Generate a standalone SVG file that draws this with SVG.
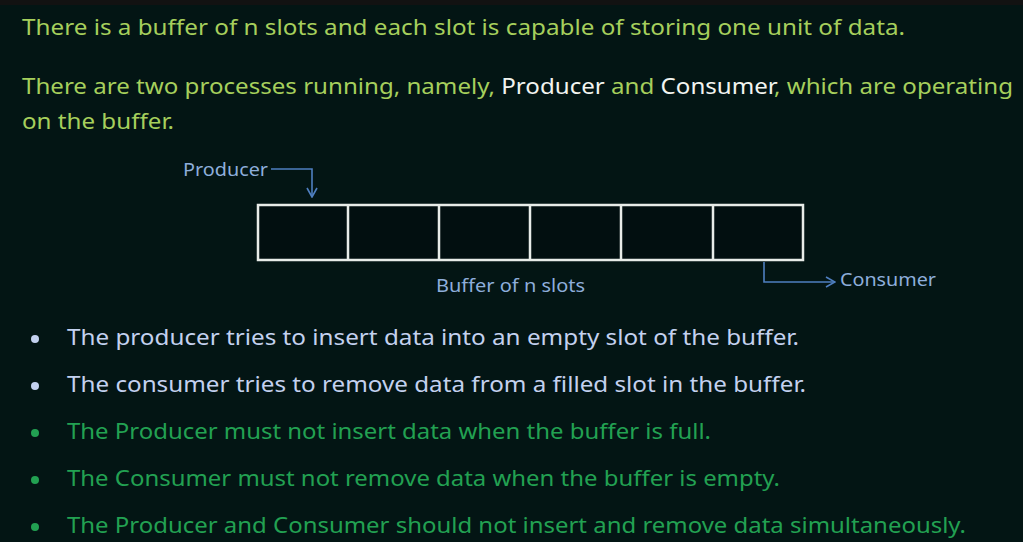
<svg xmlns="http://www.w3.org/2000/svg" width="1023" height="542" viewBox="0 0 1023 542">
<defs>
<style>
.t{font-family:"Noto Sans","Liberation Sans",sans-serif;font-size:22px;}
.g1{fill:#a6cf5c;}
.w{fill:#f2f4f0;}
.b1{fill:#c3d1ef;}
.b2{fill:#22a152;}
.d{font-family:"Noto Sans","Liberation Sans",sans-serif;font-size:18px;fill:#8eaedb;}
.cell{fill:#020f10;stroke:#e8ece8;stroke-width:2.5;}
.arr{fill:none;stroke:#4f7fc0;stroke-width:1.6;}
</style>
<marker id="ah" viewBox="0 0 12 12" refX="11" refY="6" markerWidth="12" markerHeight="12" markerUnits="userSpaceOnUse" orient="auto">
<path d="M2,1 L11,6 L2,11" fill="none" stroke="#4f7fc0" stroke-width="1.6"/>
</marker>
</defs>
<rect x="0" y="0" width="1023" height="542" fill="#031514"/>
<rect x="0" y="0" width="1023" height="5" fill="#121212"/>

<g id="intro">
<text class="t g1" x="22" y="35" textLength="883" lengthAdjust="spacingAndGlyphs">There is a buffer of n slots and each slot is capable of storing one unit of data.</text>
<text class="t g1" x="22" y="94" textLength="991" lengthAdjust="spacingAndGlyphs">There are two processes running, namely, <tspan class="w">Producer</tspan> and <tspan class="w">Consumer</tspan>, which are operating</text>
<text class="t g1" x="22" y="129" textLength="152" lengthAdjust="spacingAndGlyphs">on the buffer.</text>
</g>

<g id="buffer">
<rect class="cell" x="258" y="205" width="545" height="55"/>
<line class="cell" x1="348" y1="205" x2="348" y2="260"/>
<line class="cell" x1="439" y1="205" x2="439" y2="260"/>
<line class="cell" x1="530" y1="205" x2="530" y2="260"/>
<line class="cell" x1="621" y1="205" x2="621" y2="260"/>
<line class="cell" x1="713" y1="205" x2="713" y2="260"/>
<text class="d" x="436" y="292" textLength="149" lengthAdjust="spacingAndGlyphs">Buffer of n slots</text>
</g>

<g id="producer">
<text class="d" x="183" y="176" textLength="85" lengthAdjust="spacingAndGlyphs">Producer</text>
</g>

<g id="consumer">
<text class="d" x="840" y="286" textLength="96" lengthAdjust="spacingAndGlyphs">Consumer</text>
</g>

<g id="connectors">
<path class="arr" d="M271,169 H312 V197" marker-end="url(#ah)"/>
<path class="arr" d="M764,262 V282 H835" marker-end="url(#ah)"/>
</g>

<g id="bullets">
<circle class="b1" cx="35" cy="339" r="4"/>
<text class="t b1" x="67" y="345" textLength="732" lengthAdjust="spacingAndGlyphs">The producer tries to insert data into an empty slot of the buffer.</text>
<circle class="b1" cx="35" cy="386" r="4"/>
<text class="t b1" x="67" y="392" textLength="739" lengthAdjust="spacingAndGlyphs">The consumer tries to remove data from a filled slot in the buffer.</text>
<circle class="b2" cx="35" cy="433" r="4"/>
<text class="t b2" x="67" y="439" textLength="644" lengthAdjust="spacingAndGlyphs">The Producer must not insert data when the buffer is full.</text>
<circle class="b2" cx="35" cy="480" r="4"/>
<text class="t b2" x="67" y="486" textLength="713" lengthAdjust="spacingAndGlyphs">The Consumer must not remove data when the buffer is empty.</text>
<circle class="b2" cx="35" cy="527" r="4"/>
<text class="t b2" x="67" y="533" textLength="899" lengthAdjust="spacingAndGlyphs">The Producer and Consumer should not insert and remove data simultaneously.</text>
</g>
</svg>
